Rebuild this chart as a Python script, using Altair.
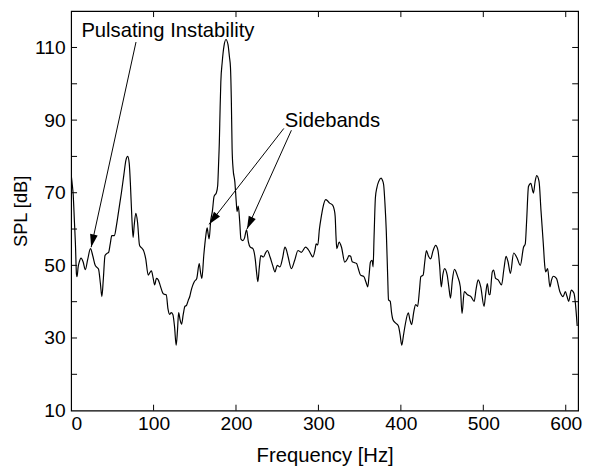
import math
import altair as alt
import pandas as pd

# ---------------- data ----------------
freq = [0, 1.5, 2.5, 4, 5.2, 6.5, 7.2, 8.5, 10, 12, 14.5, 17.2, 20, 23.5, 26.4, 29.2, 31, 33.2,
        35.5, 37.3, 39, 41.1, 43.5, 45.5, 47.5, 49.3, 52.5, 55, 58, 61, 64, 66.5, 68.7, 70.5,
        72, 73.5, 75.2, 76.5, 78.5, 80.5, 83, 85.5, 88, 90.5, 93.5, 95.5, 97.4, 99.5, 101.3,
        103.5, 105.5, 108, 111.4, 113.5, 115.4, 117.5, 119.5, 121.4, 123.4, 125.5, 127.4, 129,
        130.4, 132.2, 134, 136, 138, 140, 142, 144, 145.5, 147.5, 149.4, 152.4, 155.4, 157,
        158.6, 161, 163.3, 165, 166.3, 167.4, 169.3, 171.4, 173.4, 176.2, 177.8, 178.8, 179.8,
        180.7, 181.6, 183.3, 185.5, 187.8, 190.3, 192, 193.3, 194.3, 195.3, 196.5, 198.6,
        200.3, 201.3, 202.8, 204.5, 206, 208.5, 210.3, 212.8, 215, 217.3, 220.5, 223.3, 225,
        226.5, 228.3, 230, 233.3, 236, 238.1, 241.3, 244.5, 247.3, 250, 253.3, 256.5, 259.3,
        261.5, 263.3, 267.2, 271.2, 275.2, 279.2, 284.4, 288.4, 291, 293.2, 296, 297.2, 299.2,
        301.2, 303.5, 305.5, 308.8, 311, 313.2, 317.2, 319, 320.3, 321.3, 322.3, 325.1, 328,
        331.9, 335.2, 337, 339.1, 341, 343.1, 346.3, 348.5, 351.1, 355.1, 357.5, 359.9, 361.5,
        363.1, 365.1, 366.3, 367.5, 369.1, 371, 373.1, 375.9, 377.5, 379.1, 380.7, 382.3, 384,
        385, 387.1, 388.7, 390.3, 393.1, 397, 399, 401.1, 403, 405, 409, 411, 413.1, 415.5,
        417.9, 420.3, 422.5, 424.2, 427, 429, 431, 433.5, 436.2, 439, 442.2, 445, 447, 449,
        451, 453, 456.2, 458.2, 460.2, 462.5, 465, 468.9, 472.1, 474.2, 476.9, 480.9, 485,
        488.9, 491.3, 493.7, 496.9, 500.9, 502.8, 504.9, 507, 508.1, 510.9, 512.5, 514.9, 518,
        522.1, 525, 527.6, 530, 532.9, 536.8, 540.8, 544.9, 548.8, 550.9, 552.5, 554.8, 557.6,
        560.8, 562.8, 564.8, 567.6, 570, 572.8, 574.5, 575.6, 578, 580.8, 582.8, 584.8, 588.7,
        592.8, 596.8, 599.5, 601.5, 603.6, 606.7, 610, 611.5, 613.9]
spl = [75, 72, 69.5, 62, 56, 47.5, 46.9, 49.5, 51, 52, 51, 48.8, 51.5, 54.6, 52.5, 50, 49.5, 49,
       45, 41.4, 46, 52.7, 53.3, 53.6, 56, 58.2, 58.2, 61, 65.5, 70, 75, 79, 80, 78,
       72, 64, 57.7, 61, 64.3, 62, 55.5, 54.8, 54, 51.8, 47.3, 48, 48.5, 46.5, 44.6,
       46.4, 46.1, 44.5, 42.3, 42, 41.9, 38, 36.5, 37, 36.5, 33, 28, 32,
       37, 35, 33.8, 36.5, 38.7, 39, 40.3, 41.5, 43, 44.5, 45.5, 46.4, 50.5, 48,
       46.4, 53, 58, 60.3, 58.5, 57.3, 62.2, 65, 69, 70, 72, 77.5, 84,
       93, 100.5, 106, 110.5, 112.2, 110.8, 107.5, 104.5, 96, 82, 76.5, 73,
       67.5, 64.8, 66.3, 62, 57.2, 56.8, 57.5, 59.8, 56.5, 55, 54.6, 51.8, 48,
       45.5, 49.5, 52.7, 52.3, 53.5, 54.1, 52.3, 50, 48.2, 50, 49.6, 52, 55,
       54, 52.3, 49.1, 51.4, 54.1, 53.6, 55, 54.1, 53, 52.3, 54.5, 55.9, 55.6,
       60, 63.5, 66, 68.1, 67.8, 67.2, 66.6, 65.5, 63.5, 58, 54.6, 56.4, 55,
       50.9, 51.8, 52.7, 52.5, 51, 50.8, 50.5, 49, 47.3, 46.9, 45.5, 44.1, 47.5,
       50.9, 51.4, 49.6, 58, 68.6, 71.5, 73.1, 74, 73.5, 72.2, 67, 59.5, 47,
       40.5, 40.1, 37, 35.1, 34.2, 33.3, 31, 28, 30.5, 33.3, 36.9, 35, 33.7, 37,
       39.2, 38.7, 43, 46.9, 47.3, 51, 54.1, 52.5, 51.8, 54, 55.5, 54.1, 50, 44.1,
       47.5, 49.1, 47.3, 44, 41, 46, 48.9, 46.9, 44.1, 36.7, 42.8, 41.9, 41.4,
       40.1, 43.5, 46, 44.1, 38.7, 42, 45, 41.9, 42, 48.2, 48.7, 46.4, 46,
       44.6, 49, 52.5, 51, 47.8, 53.4, 52.1, 50, 55, 55.9, 62, 71.7, 72.6,
       69.9, 73, 74.7, 73.1, 65, 55.9, 50, 48.2, 49.1, 44.1, 46, 47, 46.4,
       42.8, 41.4, 42.8, 41.5, 40.1, 43.2, 42.3, 40, 33.3]

x_ticks = [0, 100, 200, 300, 400, 500, 600]
y_labels = [10, 30, 50, 70, 90, 110]
y_minor = [20, 30, 40, 50, 60, 70, 80, 90, 100, 110]
x_minor = [100, 200, 300, 400, 500, 600]

note_text = ["Pulsating Instability", "Sidebands"]
note_x = [117.4, 317.0]
note_y = [112.9, 88.0]

arrow_x1 = [78.7, 258.0, 267.2]
arrow_y1 = [111.5, 87.7, 87.2]
arrow_x2 = [24.3, 167.4, 213.3]
arrow_y2 = [55.0, 61.3, 60.0]

# ---------------- layout ----------------
W, H = 514, 405
XD = [0, 615]
YD = [10, 120]
FONT = "Liberation Sans"
TICK = 6

xs = alt.Scale(domain=XD, nice=False, zero=False)
ys = alt.Scale(domain=YD, nice=False, zero=False)

df = pd.DataFrame({"f": freq, "spl": spl})

curve = alt.Chart(df).mark_line(color="black", strokeWidth=1.2, clip=True,
                                interpolate="monotone").encode(
    x=alt.X("f:Q", scale=xs,
            axis=alt.Axis(values=x_ticks, ticks=False, tickSize=0, domain=False, grid=False,
                          labelPadding=4, title="Frequency [Hz]", titlePadding=13,
                          titleFontSize=20.5, format="d")),
    y=alt.Y("spl:Q", scale=ys,
            axis=alt.Axis(values=y_labels, ticks=False, tickSize=0, domain=False, grid=False,
                          labelPadding=6, title="SPL [dB]", titlePadding=4,
                          titleFontSize=18.5, format="d")),
)

xt = pd.DataFrame({"v": x_minor})
yt = pd.DataFrame({"v": y_minor})
tick_style = dict(color="black", strokeWidth=1)
bottom_ticks = alt.Chart(xt).mark_rule(**tick_style).encode(
    x=alt.X("v:Q", scale=xs), y=alt.value(H), y2=alt.value(H - TICK))
top_ticks = alt.Chart(xt).mark_rule(**tick_style).encode(
    x=alt.X("v:Q", scale=xs), y=alt.value(0), y2=alt.value(TICK))
left_ticks = alt.Chart(yt).mark_rule(**tick_style).encode(
    y=alt.Y("v:Q", scale=ys), x=alt.value(0), x2=alt.value(TICK))
right_ticks = alt.Chart(yt).mark_rule(**tick_style).encode(
    y=alt.Y("v:Q", scale=ys), x=alt.value(W), x2=alt.value(W - TICK))

# annotations
nd = pd.DataFrame({"t": note_text, "x": note_x, "y": note_y})
notes = alt.Chart(nd).mark_text(font=FONT, fontSize=20.5, color="black", align="center",
                                baseline="alphabetic").encode(
    x=alt.X("x:Q", scale=xs), y=alt.Y("y:Q", scale=ys), text="t:N")

sx = W / (XD[1] - XD[0])
sy = H / (YD[1] - YD[0])
angles = []
for a, b, c, d in zip(arrow_x1, arrow_y1, arrow_x2, arrow_y2):
    dx = (c - a) * sx
    dy = -(d - b) * sy
    angles.append(math.degrees(math.atan2(-dx, dy)) % 360)

ad = pd.DataFrame({"x1": arrow_x1, "y1": arrow_y1, "x2": arrow_x2, "y2": arrow_y2,
                   "ang": angles})
arrow_lines = alt.Chart(ad).mark_rule(color="black", strokeWidth=1).encode(
    x=alt.X("x1:Q", scale=xs), y=alt.Y("y1:Q", scale=ys),
    x2="x2:Q", y2="y2:Q")
heads = alt.Chart(ad).mark_point(shape="M0,0 L-0.3,-1 L0.3,-1 Z", filled=True,
                                 color="black", size=676, opacity=1).encode(
    x=alt.X("x2:Q", scale=xs), y=alt.Y("y2:Q", scale=ys),
    angle=alt.Angle("ang:Q", scale=None))

chart = alt.layer(curve, bottom_ticks, top_ticks, left_ticks, right_ticks,
                  arrow_lines, heads, notes).properties(
    width=W, height=H,
    autosize=alt.AutoSizeParams(type="none"),
    padding={"left": 64, "top": 0, "right": 8, "bottom": 57},
    background="white",
).configure_view(stroke="black", strokeWidth=1.2).configure_axis(
    labelFont=FONT, labelFontSize=19.5, labelColor="black",
    titleFont=FONT, titleFontWeight="normal", titleColor="black",
)

chart.save("out.html", embed_options={"renderer": "svg", "actions": False})
